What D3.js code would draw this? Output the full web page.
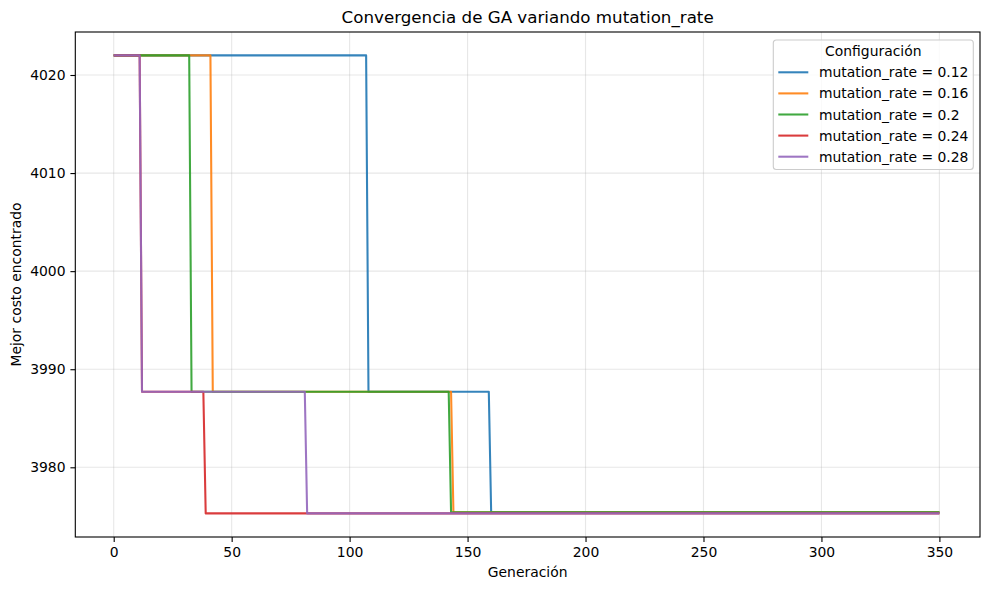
<!DOCTYPE html>
<html>
<head>
<meta charset="utf-8">
<script src="https://cdn.jsdelivr.net/npm/d3@7"></script>
<style>
  body { margin: 0; background: #fff; }
  svg { font-family: "DejaVu Sans", sans-serif; }
</style>
</head>
<body>
<svg width="989" height="590"></svg>
<script>
// series labels and colours
const labels = ["mutation_rate = 0.12", "mutation_rate = 0.16", "mutation_rate = 0.2",
                "mutation_rate = 0.24", "mutation_rate = 0.28"];
const colors = ["#1f77b4", "#ff7f0e", "#2ca02c", "#d62728", "#9467bd"];

// change points of each run: [generation, best cost]
const rate012 = [[0, 4022], [107, 4022], [108, 3987.7], [159, 3987.7], [160, 3975.4], [350, 3975.4]];
const rate016 = [[0, 4022], [41, 4022], [42, 3987.7], [143, 3987.7], [144, 3975.4], [350, 3975.4]];
const rate020 = [[0, 4022], [32, 4022], [33, 3987.7], [142, 3987.7], [143, 3975.4], [350, 3975.4]];
const rate024 = [[0, 4022], [11, 4022], [12, 3987.7], [38, 3987.7], [39, 3975.3], [350, 3975.3]];
const rate028 = [[0, 4022], [11, 4022], [12, 3987.7], [81, 3987.7], [82, 3975.3], [350, 3975.3]];
const series = [rate012, rate016, rate020, rate024, rate028];

const xTicks = [0, 50, 100, 150, 200, 250, 300, 350];
const yTicks = [3980, 3990, 4000, 4010, 4020];

const svg = d3.select("svg");
const mLeft = 75.3, mRight = 980, mTop = 32, mBottom = 537;

// fitted to the reference tick positions
const x = d3.scaleLinear().domain([0, 350]).range([113.7, 939.4]);
const y = d3.scaleLinear().domain([3980, 4020]).range([467.3, 75]);

const g = svg.append("g");

// grid
g.selectAll(".gx").data(xTicks).enter().append("line")
  .attr("x1", d => x(d)).attr("x2", d => x(d))
  .attr("y1", mTop).attr("y2", mBottom)
  .attr("stroke", "#b0b0b0").attr("stroke-opacity", 0.3).attr("stroke-width", 1.1);
g.selectAll(".gy").data(yTicks).enter().append("line")
  .attr("x1", mLeft).attr("x2", mRight)
  .attr("y1", d => y(d)).attr("y2", d => y(d))
  .attr("stroke", "#b0b0b0").attr("stroke-opacity", 0.3).attr("stroke-width", 1.1);

// lines
const line = d3.line().x(d => x(d[0])).y(d => y(d[1]));
g.selectAll(".run").data(series).enter().append("path")
  .attr("class", "run")
  .attr("d", d => line(d))
  .attr("fill", "none")
  .attr("stroke", (d, i) => colors[i])
  .attr("stroke-width", 2.08)
  .attr("stroke-opacity", 0.9)
  .attr("stroke-linejoin", "round");

// axes
const xAxis = svg.append("g")
  .attr("transform", "translate(0," + mBottom + ")")
  .call(d3.axisBottom(x).tickValues(xTicks).tickSize(4.9).tickPadding(4.9));
const yAxis = svg.append("g")
  .attr("transform", "translate(" + mLeft + ",0)")
  .call(d3.axisLeft(y).tickValues(yTicks).tickSize(4.9).tickPadding(4.9).tickFormat(d3.format("d")));
[xAxis, yAxis].forEach(a => {
  a.select(".domain").remove();
  a.selectAll("line").attr("stroke", "#000").attr("stroke-width", 1.1);
  a.selectAll("text").attr("font-size", 13.9).attr("fill", "#000")
    .attr("font-family", "DejaVu Sans");
});

// frame
svg.append("rect")
  .attr("x", mLeft).attr("y", mTop)
  .attr("width", mRight - mLeft).attr("height", mBottom - mTop)
  .attr("fill", "none").attr("stroke", "#000").attr("stroke-width", 1.1);

// titles
svg.append("text").attr("x", (mLeft + mRight) / 2).attr("y", 23)
  .attr("text-anchor", "middle").attr("font-size", 16.7)
  .text("Convergencia de GA variando mutation_rate");
svg.append("text").attr("x", (mLeft + mRight) / 2).attr("y", 577)
  .attr("text-anchor", "middle").attr("font-size", 13.9)
  .text("Generación");
svg.append("text")
  .attr("transform", "translate(21," + (mTop + mBottom) / 2 + ") rotate(-90)")
  .attr("text-anchor", "middle").attr("font-size", 13.9)
  .text("Mejor costo encontrado");

// legend
const lg = svg.append("g").attr("transform", "translate(773.3,40)");
lg.append("rect").attr("width", 200).attr("height", 129.5)
  .attr("rx", 3).attr("fill", "#fff").attr("fill-opacity", 0.8)
  .attr("stroke", "#cccccc").attr("stroke-width", 1.1);
lg.append("text").attr("x", 100).attr("y", 16)
  .attr("text-anchor", "middle").attr("font-size", 13.9)
  .text("Configuración");
const items = lg.selectAll(".item").data(labels).enter().append("g")
  .attr("transform", (d, i) => "translate(0," + (32.3 + i * 21.1) + ")");
items.append("line").attr("x1", 5).attr("x2", 35)
  .attr("stroke", (d, i) => colors[i]).attr("stroke-width", 2.08).attr("stroke-opacity", 0.9);
items.append("text").attr("x", 45.7).attr("y", 5)
  .attr("font-size", 13.9).text(d => d);
</script>
</body>
</html>
